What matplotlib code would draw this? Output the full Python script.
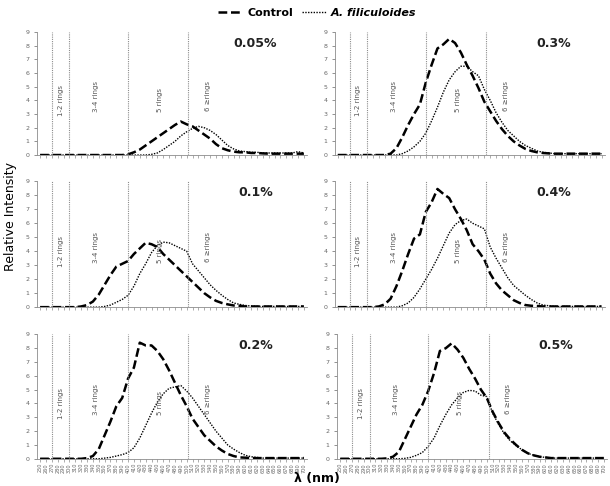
import matplotlib.pyplot as plt
import numpy as np

plt.rcParams["font.family"] = "DejaVu Sans"

wavelength = list(range(250, 701, 10))  # 46 categories
ring_lines = [270, 300, 400, 503]

panels = ["0.05%", "0.3%", "0.1%", "0.4%", "0.2%", "0.5%"]

z = lambda n: [0.0] * n

control_005 = z(15) + [0.05, 0.2, 0.4, 0.7, 1.0, 1.3, 1.6, 1.9, 2.2, 2.45, 2.25, 2.1, 1.8, 1.5,
                       1.2, 0.8, 0.5, 0.35, 0.25, 0.2, 0.2, 0.15, 0.15, 0.12, 0.1, 0.1, 0.1, 0.1,
                       0.1, 0.1, 0.1]
azolla_005 = z(19) + [0.05, 0.15, 0.4, 0.7, 1.0, 1.4, 1.7, 1.95, 2.1, 2.0, 1.8, 1.5, 1.1, 0.7,
                      0.45, 0.3, 0.25, 0.2, 0.2, 0.15, 0.15, 0.15, 0.15, 0.15, 0.15, 0.25, 0.15]

control_03 = z(9) + [0.1, 0.5, 1.3, 2.2, 3.0, 3.7, 5.3, 6.6, 7.8, 8.1, 8.5, 8.2, 7.5, 6.6, 5.8,
                     4.9, 3.9, 3.2, 2.5, 1.9, 1.4, 1.0, 0.7, 0.45, 0.3, 0.2, 0.15, 0.12, 0.1,
                     0.1, 0.1, 0.1, 0.1, 0.1, 0.1, 0.1, 0.1]
azolla_03 = z(11) + [0.1, 0.3, 0.6, 1.0, 1.6, 2.5, 3.5, 4.6, 5.5, 6.1, 6.5, 6.5, 6.1, 5.8, 4.8,
                     4.0, 3.1, 2.4, 1.8, 1.4, 1.0, 0.7, 0.5, 0.3, 0.2, 0.15, 0.1, 0.1, 0.1, 0.1,
                     0.1, 0.1, 0.1, 0.1, 0.1]

control_01 = z(7) + [0.05, 0.15, 0.4, 0.9, 1.6, 2.3, 2.9, 3.1, 3.3, 3.8, 4.2, 4.6, 4.5, 4.3,
                     3.8, 3.4, 3.0, 2.6, 2.2, 1.8, 1.4, 1.0, 0.7, 0.45, 0.3, 0.2, 0.12, 0.1,
                     0.05, 0.05, 0.05, 0.05, 0.05, 0.05, 0.05, 0.05, 0.05, 0.05, 0.05]
azolla_01 = z(11) + [0.05, 0.15, 0.35, 0.55, 0.85, 1.5, 2.4, 3.1, 3.9, 4.4, 4.65, 4.6, 4.4,
                     4.2, 4.0, 3.1, 2.6, 2.1, 1.6, 1.2, 0.85, 0.55, 0.3, 0.2, 0.12, 0.08, 0.06,
                     0.05, 0.05, 0.05, 0.05, 0.05, 0.05, 0.05, 0.05]

control_04 = z(7) + [0.05, 0.2, 0.6, 1.5, 2.6, 3.8, 4.9, 5.2, 6.8, 7.5, 8.45, 8.1, 7.8, 7.0,
                     6.3, 5.5, 4.5, 4.0, 3.4, 2.4, 1.7, 1.2, 0.85, 0.5, 0.3, 0.15, 0.1, 0.08,
                     0.05, 0.05, 0.05, 0.05, 0.05, 0.05, 0.05, 0.05, 0.05, 0.05, 0.05]
azolla_04 = z(11) + [0.1, 0.3, 0.7, 1.3, 2.0, 2.7, 3.5, 4.4, 5.3, 5.9, 6.2, 6.3, 6.0, 5.8, 5.6,
                     4.3, 3.5, 2.8, 2.1, 1.55, 1.2, 0.85, 0.55, 0.3, 0.15, 0.1, 0.05, 0.05,
                     0.05, 0.05, 0.05, 0.05, 0.05, 0.05, 0.05]

control_02 = z(8) + [0.05, 0.2, 0.7, 1.7, 2.7, 3.8, 4.4, 5.8, 6.6, 8.4, 8.2, 8.2, 7.8, 7.2,
                     6.4, 5.5, 4.6, 3.8, 2.9, 2.3, 1.7, 1.3, 0.9, 0.6, 0.35, 0.2, 0.1, 0.08,
                     0.05, 0.05, 0.05, 0.05, 0.05, 0.05, 0.05, 0.05, 0.05, 0.05]
azolla_02 = z(11) + [0.05, 0.1, 0.2, 0.3, 0.45, 0.8, 1.5, 2.4, 3.3, 4.1, 4.7, 5.1, 5.2, 5.3,
                     4.9, 4.4, 3.8, 3.2, 2.6, 2.0, 1.5, 1.0, 0.7, 0.45, 0.25, 0.15, 0.1, 0.05,
                     0.05, 0.05, 0.05, 0.05, 0.05, 0.05, 0.05]

control_05 = z(8) + [0.03, 0.15, 0.5, 1.4, 2.3, 3.2, 3.9, 4.9, 6.2, 7.8, 8.0, 8.35, 7.9, 7.3,
                     6.5, 5.8, 5.0, 4.4, 3.4, 2.6, 1.9, 1.4, 1.0, 0.65, 0.4, 0.25, 0.15, 0.1,
                     0.05, 0.05, 0.05, 0.05, 0.05, 0.05, 0.05, 0.05, 0.05, 0.05]
azolla_05 = z(11) + [0.03, 0.1, 0.25, 0.45, 0.9, 1.5, 2.4, 3.2, 3.9, 4.4, 4.8, 4.95, 4.9, 4.6,
                     4.5, 3.3, 2.5, 1.8, 1.3, 0.95, 0.65, 0.4, 0.25, 0.15, 0.1, 0.05, 0.05,
                     0.05, 0.05, 0.05, 0.05, 0.05, 0.05, 0.05, 0.05]

control = [control_005, control_03, control_01, control_04, control_02, control_05]
azolla = [azolla_005, azolla_03, azolla_01, azolla_04, azolla_02, azolla_05]

ring_labels = ["1-2 rings", "3-4 rings", "5 rings", "6 \u2265rings"]
ring_label_x = [285, 345, 455, 537]
ring_label_y = [4.0, 4.3, 4.0, 4.3]

# axes boxes in figure fractions [left, bottom, width, height]
boxes = [
    [0.061, 0.681, 0.442, 0.253],
    [0.549, 0.681, 0.442, 0.253],
    [0.061, 0.368, 0.442, 0.259],
    [0.549, 0.368, 0.442, 0.259],
    [0.061, 0.056, 0.442, 0.256],
    [0.553, 0.056, 0.442, 0.256],
]

fig = plt.figure(figsize=(6.1, 4.86), dpi=100)
grey = "#8c8c8c"

for i, box in enumerate(boxes):
    ax = fig.add_axes(box)
    lc, = ax.plot(wavelength, control[i], color="black", lw=1.8, ls=(0, (3.5, 1.5)),
                  label="Control")
    la, = ax.plot(wavelength, azolla[i], color="black", lw=1.0, ls=(0, (1, 1)),
                  label="A. filiculoides")
    for xv in ring_lines:
        ax.plot([xv, xv], [0, 9], color=grey, lw=0.8, ls=(0, (1, 1)))
    for lab, xv, yv in zip(ring_labels, ring_label_x, ring_label_y):
        ax.text(xv, yv, lab, rotation=90, fontsize=5, color="#555555",
                ha="center", va="center")
    ax.text(0.81, 0.91, panels[i], transform=ax.transAxes, fontsize=9,
            fontweight="bold", ha="center", va="center", color="#222222")
    ax.set_xlim(245, 705)
    ax.set_ylim(0, 9)
    ax.set_yticks(range(10))
    ax.set_xticks(wavelength)
    ax.tick_params(axis="y", labelsize=4.5, colors="#666666", length=2, width=0.5)
    ax.tick_params(axis="x", length=2, width=0.5, colors=grey, labelsize=3.6,
                   labelrotation=90, labelcolor="#666666", pad=1)
    if i < 4:
        ax.set_xticklabels([])
    for side in ["top", "right"]:
        ax.spines[side].set_visible(False)
    for side in ["left", "bottom"]:
        ax.spines[side].set_color(grey)
        ax.spines[side].set_linewidth(0.6)
    if i == 0:
        handles = [lc, la]

leg = fig.legend(handles, ["Control", "A. filiculoides"], loc="upper center",
                 bbox_to_anchor=(0.52, 1.005), ncol=2, frameon=False,
                 prop={"weight": "bold", "size": 8}, handlelength=2.2,
                 columnspacing=0.8, handletextpad=0.4)
leg.get_texts()[1].set_style("italic")

fig.text(0.018, 0.555, "Relative Intensity", rotation=90, fontsize=9,
         ha="center", va="center")
fig.text(0.52, 0.016, "\u03bb (nm)", fontsize=9, fontweight="bold",
         ha="center", va="center")

fig.savefig("out.png", dpi=100)
